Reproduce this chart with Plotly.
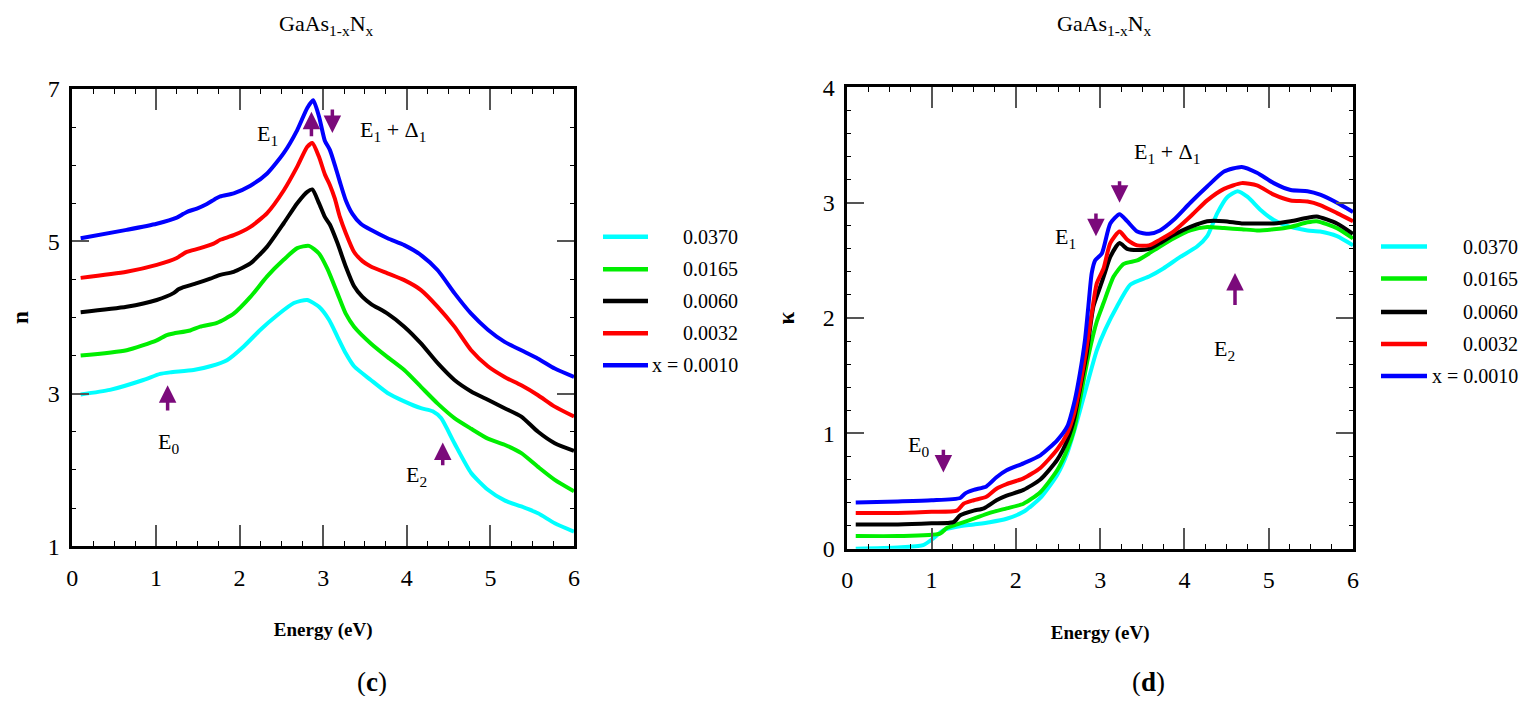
import plotly.graph_objects as go

FONT = "Liberation Serif"
OFF = 8                      # page body margin of the browser
W, H = 1529 - 2 * OFF, 704 - 2 * OFF

# ---------------- data: refractive index n (panel c) ----------------
E_n_0010 = [0.10, 0.65, 1.01, 1.25, 1.33, 1.38, 1.49, 1.61, 1.70, 1.77, 1.93, 2.13, 2.33, 2.53, 2.69, 2.81, 2.88, 2.95, 3.02, 3.08, 3.14, 3.20, 3.27, 3.35, 3.45, 3.57, 3.77, 3.97, 4.17, 4.37, 4.57, 4.77, 4.97, 5.17, 5.37, 5.57, 5.77, 6.00]
n_0010 = [5.04, 5.15, 5.23, 5.31, 5.36, 5.39, 5.43, 5.49, 5.55, 5.59, 5.63, 5.73, 5.89, 6.16, 6.46, 6.75, 6.85, 6.64, 6.32, 6.20, 6.00, 5.78, 5.54, 5.36, 5.23, 5.15, 5.04, 4.95, 4.82, 4.62, 4.32, 4.05, 3.84, 3.68, 3.57, 3.46, 3.33, 3.22]

E_n_0032 = [0.10, 0.65, 1.01, 1.25, 1.32, 1.37, 1.53, 1.69, 1.77, 1.93, 2.13, 2.33, 2.53, 2.69, 2.81, 2.87, 2.95, 3.02, 3.08, 3.14, 3.20, 3.27, 3.37, 3.47, 3.57, 3.77, 3.97, 4.17, 4.37, 4.57, 4.77, 4.97, 5.17, 5.37, 5.57, 5.77, 6.00]
n_0032 = [4.52, 4.60, 4.69, 4.78, 4.83, 4.86, 4.91, 4.97, 5.02, 5.08, 5.19, 5.37, 5.67, 5.98, 6.24, 6.29, 6.11, 5.88, 5.74, 5.56, 5.32, 5.11, 4.86, 4.74, 4.67, 4.58, 4.49, 4.36, 4.14, 3.88, 3.57, 3.36, 3.22, 3.11, 2.98, 2.83, 2.70]

E_n_0060 = [0.10, 0.65, 1.01, 1.21, 1.27, 1.31, 1.49, 1.65, 1.77, 1.93, 2.13, 2.33, 2.53, 2.69, 2.81, 2.87, 2.95, 3.02, 3.08, 3.17, 3.27, 3.37, 3.47, 3.57, 3.77, 3.97, 4.17, 4.37, 4.57, 4.77, 4.97, 5.17, 5.37, 5.57, 5.77, 6.00]
n_0060 = [4.07, 4.14, 4.23, 4.32, 4.37, 4.39, 4.45, 4.51, 4.56, 4.60, 4.71, 4.93, 5.24, 5.50, 5.65, 5.68, 5.50, 5.32, 5.22, 4.98, 4.67, 4.41, 4.27, 4.18, 4.05, 3.88, 3.66, 3.40, 3.18, 3.03, 2.92, 2.81, 2.70, 2.50, 2.35, 2.25]

E_n_0165 = [0.10, 0.65, 1.01, 1.13, 1.21, 1.41, 1.53, 1.73, 1.93, 2.13, 2.33, 2.53, 2.69, 2.83, 2.95, 3.05, 3.17, 3.27, 3.37, 3.57, 3.77, 3.97, 4.17, 4.37, 4.57, 4.77, 4.97, 5.17, 5.37, 5.57, 5.77, 6.00]
n_0165 = [3.50, 3.57, 3.70, 3.77, 3.79, 3.83, 3.88, 3.93, 4.05, 4.27, 4.54, 4.76, 4.91, 4.94, 4.84, 4.64, 4.32, 4.05, 3.88, 3.66, 3.48, 3.31, 3.09, 2.87, 2.68, 2.54, 2.41, 2.33, 2.22, 2.04, 1.87, 1.72]

E_n_0370 = [0.10, 0.45, 0.85, 1.05, 1.17, 1.45, 1.65, 1.85, 2.05, 2.25, 2.45, 2.65, 2.81, 2.95, 3.07, 3.17, 3.27, 3.37, 3.57, 3.77, 3.97, 4.17, 4.31, 4.41, 4.57, 4.77, 4.97, 5.17, 5.37, 5.57, 5.77, 6.00]
n_0370 = [2.99, 3.05, 3.18, 3.26, 3.28, 3.31, 3.36, 3.44, 3.62, 3.84, 4.03, 4.19, 4.23, 4.14, 3.97, 3.75, 3.53, 3.36, 3.18, 3.01, 2.90, 2.81, 2.77, 2.68, 2.35, 1.96, 1.74, 1.60, 1.52, 1.43, 1.30, 1.19]

# ---------------- data: extinction coefficient kappa (panel d) ----------------
E_k_0010 = [0.10, 0.60, 1.00, 1.34, 1.40, 1.50, 1.65, 1.77, 1.89, 2.09, 2.29, 2.49, 2.61, 2.70, 2.76, 2.82, 2.86, 2.90, 2.94, 3.02, 3.12, 3.23, 3.32, 3.44, 3.58, 3.71, 3.87, 4.07, 4.27, 4.47, 4.68, 4.86, 5.06, 5.26, 5.46, 5.61, 5.81, 6.00]
k_0010 = [0.40, 0.41, 0.42, 0.44, 0.48, 0.51, 0.54, 0.62, 0.68, 0.74, 0.81, 0.94, 1.06, 1.29, 1.52, 1.81, 2.10, 2.39, 2.50, 2.56, 2.82, 2.90, 2.84, 2.75, 2.73, 2.76, 2.85, 3.00, 3.14, 3.27, 3.31, 3.26, 3.17, 3.11, 3.10, 3.07, 3.00, 2.92]

E_k_0032 = [0.10, 0.60, 1.00, 1.30, 1.38, 1.50, 1.65, 1.77, 1.89, 2.09, 2.29, 2.49, 2.61, 2.69, 2.76, 2.84, 2.90, 2.96, 3.04, 3.12, 3.23, 3.32, 3.44, 3.58, 3.71, 3.87, 4.07, 4.27, 4.47, 4.68, 4.86, 5.06, 5.26, 5.46, 5.61, 5.81, 6.00]
k_0032 = [0.31, 0.31, 0.32, 0.33, 0.39, 0.42, 0.45, 0.52, 0.56, 0.61, 0.70, 0.86, 1.00, 1.17, 1.41, 1.75, 2.04, 2.30, 2.43, 2.65, 2.75, 2.68, 2.63, 2.63, 2.68, 2.75, 2.88, 3.02, 3.12, 3.17, 3.15, 3.07, 3.02, 3.01, 2.98, 2.91, 2.84]

E_k_0060 = [0.10, 0.60, 1.00, 1.26, 1.34, 1.50, 1.62, 1.77, 1.89, 2.09, 2.29, 2.49, 2.61, 2.69, 2.76, 2.84, 2.92, 3.00, 3.06, 3.12, 3.23, 3.32, 3.44, 3.58, 3.71, 3.87, 4.07, 4.27, 4.47, 4.68, 4.86, 5.06, 5.26, 5.46, 5.57, 5.81, 6.00]
k_0060 = [0.21, 0.21, 0.22, 0.23, 0.29, 0.33, 0.35, 0.42, 0.46, 0.51, 0.60, 0.77, 0.94, 1.12, 1.38, 1.69, 2.10, 2.27, 2.40, 2.53, 2.65, 2.60, 2.59, 2.60, 2.65, 2.72, 2.79, 2.84, 2.84, 2.82, 2.82, 2.82, 2.84, 2.87, 2.88, 2.82, 2.73]

E_k_0165 = [0.10, 0.60, 1.10, 1.18, 1.30, 1.50, 1.69, 1.89, 2.09, 2.29, 2.49, 2.61, 2.69, 2.76, 2.86, 2.96, 3.04, 3.16, 3.28, 3.44, 3.58, 3.71, 3.87, 4.07, 4.27, 4.47, 4.68, 4.86, 5.06, 5.26, 5.46, 5.57, 5.81, 6.00]
k_0165 = [0.11, 0.11, 0.13, 0.18, 0.21, 0.26, 0.31, 0.35, 0.39, 0.49, 0.68, 0.86, 1.03, 1.29, 1.67, 1.97, 2.13, 2.36, 2.47, 2.50, 2.56, 2.62, 2.69, 2.76, 2.79, 2.78, 2.77, 2.76, 2.77, 2.79, 2.83, 2.84, 2.78, 2.69]

E_k_0370 = [0.10, 0.60, 0.90, 1.02, 1.14, 1.30, 1.50, 1.69, 1.89, 2.09, 2.29, 2.49, 2.61, 2.72, 2.84, 2.96, 3.06, 3.20, 3.36, 3.58, 3.75, 3.95, 4.15, 4.27, 4.39, 4.51, 4.63, 4.75, 4.90, 5.06, 5.26, 5.46, 5.61, 5.81, 6.00]
k_0370 = [0.00, 0.01, 0.03, 0.09, 0.16, 0.19, 0.21, 0.23, 0.26, 0.32, 0.44, 0.64, 0.83, 1.09, 1.41, 1.72, 1.90, 2.10, 2.29, 2.36, 2.43, 2.53, 2.62, 2.71, 2.91, 3.05, 3.10, 3.05, 2.94, 2.85, 2.79, 2.76, 2.75, 2.71, 2.63]

series_labels = ["0.0370", "0.0165", "0.0060", "0.0032", "x = 0.0010"]
series_colors = ["#00FFFF", "#00EE00", "#000000", "#FF0000", "#0000FF"]

n_series = [(E_n_0370, n_0370), (E_n_0165, n_0165), (E_n_0060, n_0060), (E_n_0032, n_0032), (E_n_0010, n_0010)]
k_series = [(E_k_0370, k_0370), (E_k_0165, k_0165), (E_k_0060, k_0060), (E_k_0032, k_0032), (E_k_0010, k_0010)]

# critical point markers: (label, arrow x, head y, tail y, label x, label y)
n_points = [
    ("E<sub>0</sub>", 1.14, 3.11, 2.76, 1.15, 2.35),
    ("E<sub>1</sub>", 2.86, 6.70, 6.36, 2.33, 6.40),
    ("E<sub>1</sub> + Δ<sub>1</sub>", 3.11, 6.42, 6.75, 3.83, 6.45),
    ("E<sub>2</sub>", 4.43, 2.36, 2.04, 4.12, 1.92),
]
k_points = [
    ("E<sub>0</sub>", 1.14, 0.66, 0.87, 0.85, 0.89),
    ("E<sub>1</sub>", 2.95, 2.71, 2.92, 2.59, 2.69),
    ("E<sub>1</sub> + Δ<sub>1</sub>", 3.23, 3.00, 3.20, 3.79, 3.43),
    ("E<sub>2</sub>", 4.60, 2.39, 2.10, 4.48, 1.72),
]

fig = go.Figure()
for (ex, ny), name, col in zip(n_series, series_labels, series_colors):
    fig.add_trace(go.Scatter(x=ex, y=ny, mode="lines", name=name, xaxis="x", yaxis="y",
                             line=dict(color=col, width=4, shape="spline", smoothing=0.6)))
for (ex, ky), name, col in zip(k_series, series_labels, series_colors):
    fig.add_trace(go.Scatter(x=ex, y=ky, mode="lines", name=name, xaxis="x2", yaxis="y2",
                             line=dict(color=col, width=4, shape="spline", smoothing=0.6)))


def px_x(p):
    return (p - OFF) / W


def px_y(p):
    return 1 - (p - OFF) / H


def axis_common(is_x):
    d = dict(showline=True, linewidth=2.5, linecolor="black", mirror="ticks",
             ticks="inside", tickwidth=1.5, tickcolor="#555555",
             showgrid=False, zeroline=False, automargin=False,
             tickfont=dict(family=FONT, size=24, color="black"))
    if is_x:
        d.update(ticklen=21, ticklabelstandoff=8,
                 minor=dict(ticks="inside", ticklen=5, dtick=0.25, tickcolor="black", tickwidth=1.2),
                 title=dict(text="<b>Energy (eV)</b>", font=dict(family=FONT, size=19, color="black"), standoff=34))
    else:
        d.update(ticklen=17, ticklabelstandoff=5)
    return d


xa = axis_common(True)
xa.update(domain=[px_x(72.3), px_x(574)], range=[0, 6], dtick=1, tick0=0, anchor="y")
ya = axis_common(False)
ya.update(domain=[px_y(546.1), px_y(88.9)], range=[1, 7], dtick=2, tick0=1, anchor="x",
          minor=dict(ticks="inside", ticklen=4, dtick=0.5, tickcolor="black", tickwidth=1.2),
          title=dict(text="<b>n</b>", font=dict(family=FONT, size=23, color="black"), standoff=26))
xa2 = axis_common(True)
xa2.update(domain=[px_x(847.3), px_x(1353)], range=[0, 6], dtick=1, tick0=0, anchor="y2")
ya2 = axis_common(False)
ya2.update(domain=[px_y(548.7), px_y(87.4)], range=[0, 4], dtick=1, tick0=0, anchor="x2",
           minor=dict(ticks="inside", ticklen=4, dtick=0.2, tickcolor="black", tickwidth=1.2),
           title=dict(text="<b>κ</b>", font=dict(family=FONT, size=23, color="black"), standoff=22))

annotations = []
ARROW = "#7B0A7B"
for pts, xr, yr in [(n_points, "x", "y"), (k_points, "x2", "y2")]:
    for label, axx, head, tail, lx, ly in pts:
        annotations.append(dict(x=axx, y=head, ax=axx, ay=tail, xref=xr, yref=yr, axref=xr, ayref=yr,
                                text="", showarrow=True, arrowhead=2, arrowsize=1.0, arrowwidth=3.5,
                                arrowcolor=ARROW, standoff=0, startstandoff=0))
        annotations.append(dict(x=lx, y=ly, xref=xr, yref=yr, text=label, showarrow=False,
                                font=dict(family=FONT, size=22, color="black")))

# titles and panel labels
for cx in (326, 1104):
    annotations.append(dict(x=px_x(cx), y=px_y(25), xref="paper", yref="paper", xanchor="center", yanchor="middle",
                            text="GaAs<sub>1-x</sub>N<sub>x</sub>", showarrow=False,
                            font=dict(family=FONT, size=22, color="black")))
for cx, lab in ((372, "(<b>c</b>)"), (1148, "(<b>d</b>)")):
    annotations.append(dict(x=px_x(cx), y=px_y(682), xref="paper", yref="paper", xanchor="center", yanchor="middle",
                            text=lab, showarrow=False, font=dict(family=FONT, size=27, color="black")))

# legends (drawn by hand so the labels can be right-aligned)
shapes = []
legend_boxes = [
    (603, 648, 740, [236.7, 269.3, 301.0, 333.3, 365.3]),
    (1381, 1427, 1520, [246.5, 278.5, 312.0, 344.0, 376.0]),
]
for x0, x1, xt, ys in legend_boxes:
    for name, col, yy in zip(series_labels, series_colors, ys):
        shapes.append(dict(type="line", xref="paper", yref="paper", x0=px_x(x0), x1=px_x(x1),
                           y0=px_y(yy), y1=px_y(yy), line=dict(color=col, width=4.5)))
        annotations.append(dict(x=px_x(xt), y=px_y(yy), xref="paper", yref="paper", xanchor="right",
                                yanchor="middle", text=name, showarrow=False,
                                font=dict(family=FONT, size=20, color="black")))

fig.update_layout(width=W, height=H, margin=dict(l=0, r=0, t=0, b=0),
                  plot_bgcolor="white", paper_bgcolor="white", showlegend=False,
                  xaxis=xa, yaxis=ya, xaxis2=xa2, yaxis2=ya2,
                  annotations=annotations, shapes=shapes)

fig.write_html("out.html")
